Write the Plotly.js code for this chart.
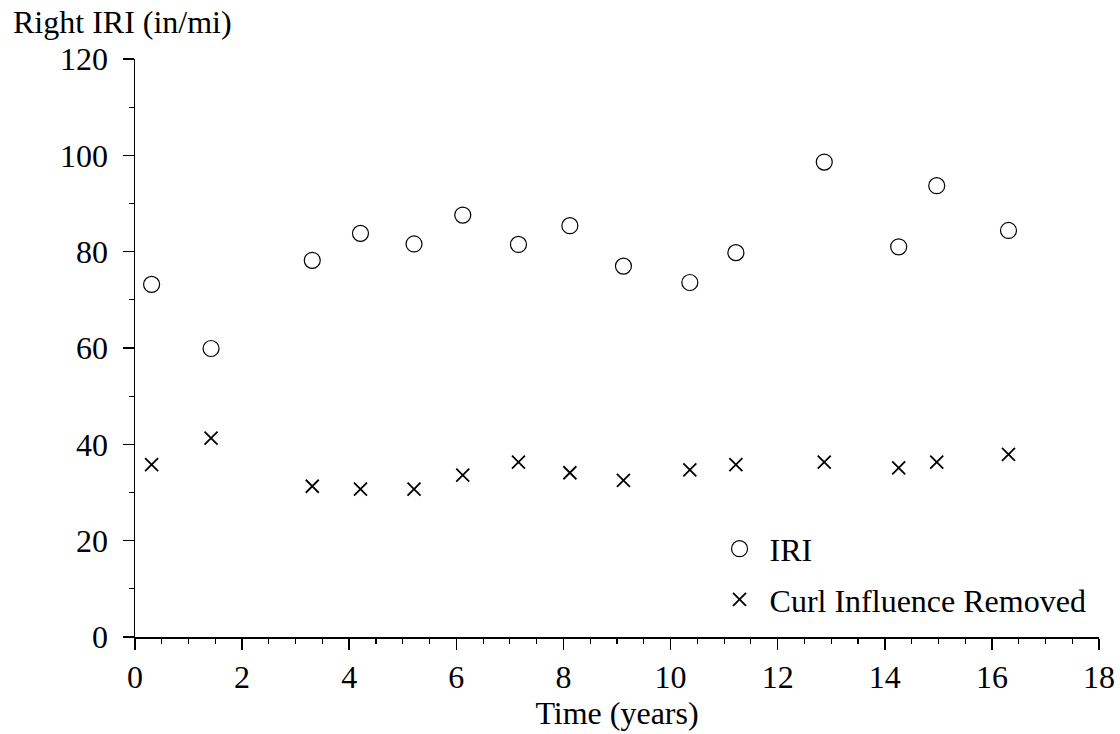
<!DOCTYPE html>
<html>
<head>
<meta charset="utf-8">
<script src="https://cdn.plot.ly/plotly-3.0.1.min.js"></script>
<style>html,body{margin:0;padding:0;background:#fff;}#chart{width:1120px;height:734px;}</style>
</head>
<body>
<div id="chart"></div>
<script>
const timeYears = [0.31, 1.42, 3.31, 4.21, 5.21, 6.12, 7.16, 8.12, 9.12, 10.36, 11.22, 12.87, 14.26, 14.97, 16.31];
const iri = [73.2, 59.9, 78.2, 83.8, 81.6, 87.6, 81.5, 85.4, 77.0, 73.6, 79.8, 98.6, 81.0, 93.7, 84.4];
const curlRemoved = [35.8, 41.3, 31.3, 30.7, 30.7, 33.6, 36.3, 34.1, 32.5, 34.7, 35.8, 36.3, 35.1, 36.3, 37.9];
const seriesNames = ["IRI", "Curl Influence Removed"];
const xTitle = "Time (years)";
const yTitle = "Right IRI (in/mi)";

const fontFam = "Liberation Serif, Times New Roman, serif";
const fs = 32;

const traces = [
  {x: timeYears, y: iri, type: "scatter", mode: "markers", name: seriesNames[0], legendgroup: "a",
   marker: {symbol: "circle-open", size: 16, color: "#000", line: {width: 1.2, color: "#000"}}},
  {x: timeYears, y: curlRemoved, type: "scatter", mode: "markers", name: seriesNames[1], legendgroup: "b",
   marker: {symbol: "x-thin-open", size: 13, color: "#000", line: {width: 1.8, color: "#000"}}}
];

const layout = {
  width: 1120, height: 734,
  margin: {l: 135, r: 21, t: 59, b: 97},
  paper_bgcolor: "#fff", plot_bgcolor: "#fff",
  font: {family: fontFam, size: fs, color: "#000"},
  showlegend: true,
  legend: {x: 0.596, xanchor: "left", y: 0.2, yanchor: "top", bgcolor: "rgba(0,0,0,0)",
           font: {family: fontFam, size: fs, color: "#000"}, traceorder: "grouped", tracegroupgap: 6, itemwidth: 50},
  xaxis: {range: [0, 18], dtick: 2, tick0: 0, showline: true, linecolor: "#000", linewidth: 1.5,
          ticks: "outside", ticklen: 11, tickwidth: 1.5, tickcolor: "#000", showgrid: false, zeroline: false,
          tickfont: {family: fontFam, size: fs, color: "#000"},
          minor: {dtick: 0.5, ticks: "outside", ticklen: 5, tickwidth: 1.2, tickcolor: "#000", showgrid: false},
          title: {text: xTitle, font: {family: fontFam, size: fs, color: "#000"}, standoff: 2}},
  yaxis: {range: [0, 120], dtick: 20, tick0: 0, showline: true, linecolor: "#000", linewidth: 1.5,
          ticks: "outside", ticklen: 11, tickwidth: 1.5, tickcolor: "#000", showgrid: false, zeroline: false,
          ticklabelstandoff: 8,
          tickfont: {family: fontFam, size: fs, color: "#000"},
          minor: {dtick: 10, ticks: "outside", ticklen: 5, tickwidth: 1.2, tickcolor: "#000", showgrid: false}},
  annotations: [
    {text: yTitle, xref: "paper", yref: "paper", x: -0.129, y: 1.0, xanchor: "left", yanchor: "bottom",
     yshift: 17, showarrow: false, font: {family: fontFam, size: fs, color: "#000"}}
  ]
};

Plotly.newPlot("chart", traces, layout, {displayModeBar: false, staticPlot: true});
</script>
</body>
</html>
